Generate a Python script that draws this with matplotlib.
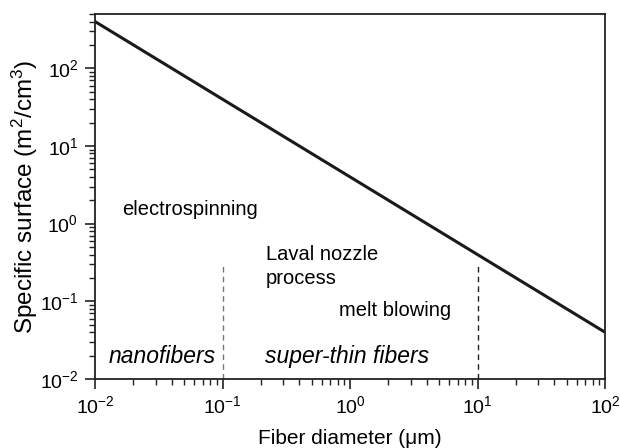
import matplotlib
matplotlib.use("Agg")
import matplotlib.pyplot as plt
from matplotlib.ticker import LogLocator, LogFormatterMathtext, NullFormatter

plt.rcParams['font.family'] = ['Liberation Sans', 'DejaVu Sans']
plt.rcParams['mathtext.fontset'] = 'custom'
plt.rcParams['mathtext.rm'] = 'Liberation Sans'
plt.rcParams['mathtext.it'] = 'Liberation Sans:italic'

diameter = [0.01, 100]
surface = [400, 0.04]
boundary_x = [0.1, 10]
boundary_top = [0.3, 0.3]
boundary_colors = ['#777777', '#222222']

fig = plt.figure(figsize=(6.2, 4.48), dpi=100)
ax = fig.add_axes([95/620, 1 - 379/448, 510/620, 365/448])
ax.set_xscale('log')
ax.set_yscale('log')
ax.set_xlim(1e-2, 1e2)
ax.set_ylim(1e-2, 500)

ax.plot(diameter, surface, color='#1a1a1a', lw=2.2, solid_capstyle='butt')
for bx, bt, bc in zip(boundary_x, boundary_top, boundary_colors):
    ax.plot([bx, bx], [1e-2, bt], ls=(0, (4, 3)), color=bc, lw=1.0)

fs = 14.5
ax.text(0.0163, 1.54, 'electrospinning', fontsize=fs, va='center', ha='left')
ax.text(0.218, 0.28, 'Laval nozzle\nprocess', fontsize=fs, va='center', ha='left', linespacing=1.3)
ax.text(0.82, 0.077, 'melt blowing', fontsize=fs, va='center', ha='left')
ax.text(0.0129, 0.0195, 'nanofibers', fontsize=16.5, style='italic', va='center', ha='left')
ax.text(0.215, 0.0195, 'super-thin fibers', fontsize=16.5, style='italic', va='center', ha='left')

ax.set_xlabel('Fiber diameter (\u03bcm)', fontsize=15, labelpad=8)
ax.set_ylabel('Specific surface (m$^2$/cm$^3$)', fontsize=17.5, labelpad=0)

for a in (ax.xaxis, ax.yaxis):
    a.set_major_locator(LogLocator(base=10, numticks=10))
    a.set_minor_locator(LogLocator(base=10, subs=range(2, 10), numticks=10))
    a.set_major_formatter(LogFormatterMathtext())
    a.set_minor_formatter(NullFormatter())

ax.tick_params(which='both', direction='out', top=False, right=False, labelsize=14, color='#222222')
ax.tick_params(which='major', length=7, width=1.2, pad=5)
ax.tick_params(which='minor', length=4, width=1.0)
for s in ax.spines.values():
    s.set_linewidth(1.3)
    s.set_color('#222222')

fig.savefig('out.png', dpi=100)
